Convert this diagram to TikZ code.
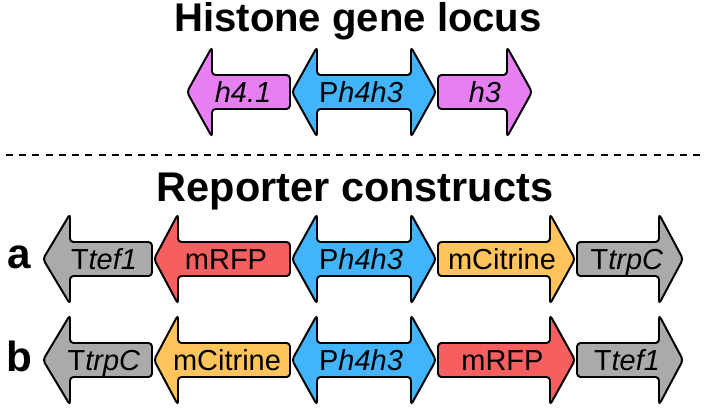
\documentclass[tikz,border=0pt]{standalone}
\usepackage{fontspec}
\setmainfont{Liberation Sans}
\definecolor{histpink}{RGB}{230,128,242}
\definecolor{promblue}{RGB}{66,180,250}
\definecolor{rfpred}{RGB}{245,95,95}
\definecolor{cityellow}{RGB}{255,196,92}
\definecolor{termgrey}{RGB}{170,170,170}

\begin{document}
\begin{tikzpicture}[
    gene/.style={draw=black, line width=1.4pt, rounded corners=2.5pt, line join=round},
    genelabel/.style={anchor=base, inner sep=0pt, font=\fontsize{20.6}{24}\selectfont},
    heading/.style={anchor=base, inner sep=0pt, font=\bfseries\fontsize{28.5}{32}\selectfont}
  ]
  \useasboundingbox (0,0) rectangle (17.775,-10.175);

  \node [heading] (locustitle) at (8.95,-0.79) { Histone gene locus };

  \draw [gene, fill=histpink] (7.25,-1.875) -- (5.3,-1.875) -- (5.3,-1.175) -- (4.675,-2.3) -- (5.3,-3.425) -- (5.3,-2.725) -- (7.25,-2.725) -- cycle;
  \draw [gene, fill=promblue] (7.3,-2.3) -- (7.925,-1.175) -- (7.925,-1.875) -- (10.275,-1.875) -- (10.275,-1.175) -- (10.9,-2.3) -- (10.275,-3.425) -- (10.275,-2.725) -- (7.925,-2.725) -- (7.925,-3.425) -- cycle;
  \draw [gene, fill=histpink] (10.95,-1.875) -- (12.675,-1.875) -- (12.675,-1.175) -- (13.3,-2.3) -- (12.675,-3.425) -- (12.675,-2.725) -- (10.95,-2.725) -- cycle;

  \node [genelabel] (locush41) at (6.075,-2.5625) { \itshape h4.1 };
  \node [genelabel] (locusprom) at (9.025,-2.5625) { P\textit{h4h3} };
  \node [genelabel] (locush3) at (12.125,-2.5625) { \itshape h3 };

  \draw [line width=1.8pt, dash pattern=on 5pt off 4.4pt] (0.15,-3.875) -- (17.5,-3.875);

  \node [heading, font=\bfseries\fontsize{29.5}{33}\selectfont] (reptitle) at (8.875,-5.04) { Reporter constructs };

  % construct a
  \node [heading, font=\bfseries\fontsize{30}{34}\selectfont] (rowa) at (0.475,-6.7) { a };

  \draw [gene, fill=termgrey] (3.8,-6.05) -- (1.75,-6.05) -- (1.75,-5.35) -- (1.075,-6.475) -- (1.75,-7.6) -- (1.75,-6.9) -- (3.8,-6.9) -- cycle;
  \draw [gene, fill=rfpred] (7.25,-6.05) -- (4.45,-6.05) -- (4.45,-5.35) -- (3.85,-6.475) -- (4.45,-7.6) -- (4.45,-6.9) -- (7.25,-6.9) -- cycle;
  \draw [gene, fill=promblue] (7.3,-6.475) -- (7.925,-5.35) -- (7.925,-6.05) -- (10.275,-6.05) -- (10.275,-5.35) -- (10.9,-6.475) -- (10.275,-7.6) -- (10.275,-6.9) -- (7.925,-6.9) -- (7.925,-7.6) -- cycle;
  \draw [gene, fill=cityellow] (10.95,-6.05) -- (13.75,-6.05) -- (13.75,-5.35) -- (14.375,-6.475) -- (13.75,-7.6) -- (13.75,-6.9) -- (10.95,-6.9) -- cycle;
  \draw [gene, fill=termgrey] (14.425,-6.05) -- (16.475,-6.05) -- (16.475,-5.35) -- (17.075,-6.475) -- (16.475,-7.6) -- (16.475,-6.9) -- (14.425,-6.9) -- cycle;

  \node [genelabel] (atef) at (2.6,-6.7375) { T\textit{tef1} };
  \node [genelabel] (arfp) at (5.65,-6.7375) { mRFP };
  \node [genelabel] (aprom) at (9.025,-6.7375) { P\textit{h4h3} };
  \node [genelabel] (acit) at (12.55,-6.7375) { mCitrine };
  \node [genelabel] (atrp) at (15.675,-6.7375) { T\textit{trpC} };

  % construct b
  \node [heading, font=\bfseries\fontsize{30}{34}\selectfont] (rowb) at (0.49,-9.29) { b };

  \draw [gene, fill=termgrey] (3.8,-8.575) -- (1.75,-8.575) -- (1.75,-7.875) -- (1.075,-9) -- (1.75,-10.125) -- (1.75,-9.425) -- (3.8,-9.425) -- cycle;
  \draw [gene, fill=cityellow] (7.25,-8.575) -- (4.45,-8.575) -- (4.45,-7.875) -- (3.85,-9) -- (4.45,-10.125) -- (4.45,-9.425) -- (7.25,-9.425) -- cycle;
  \draw [gene, fill=promblue] (7.3,-9) -- (7.925,-7.875) -- (7.925,-8.575) -- (10.275,-8.575) -- (10.275,-7.875) -- (10.9,-9) -- (10.275,-10.125) -- (10.275,-9.425) -- (7.925,-9.425) -- (7.925,-10.125) -- cycle;
  \draw [gene, fill=rfpred] (10.95,-8.575) -- (13.75,-8.575) -- (13.75,-7.875) -- (14.375,-9) -- (13.75,-10.125) -- (13.75,-9.425) -- (10.95,-9.425) -- cycle;
  \draw [gene, fill=termgrey] (14.425,-8.575) -- (16.475,-8.575) -- (16.475,-7.875) -- (17.075,-9) -- (16.475,-10.125) -- (16.475,-9.425) -- (14.425,-9.425) -- cycle;

  \node [genelabel] (btrp) at (2.6,-9.2625) { T\textit{trpC} };
  \node [genelabel] (bcit) at (5.675,-9.2625) { mCitrine };
  \node [genelabel] (bprom) at (9.025,-9.2625) { P\textit{h4h3} };
  \node [genelabel] (brfp) at (12.56,-9.2625) { mRFP };
  \node [genelabel] (btef) at (15.675,-9.2625) { T\textit{tef1} };
\end{tikzpicture}
\end{document}
